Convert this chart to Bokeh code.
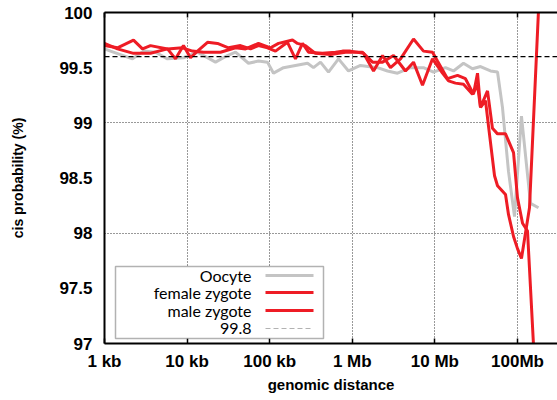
from bokeh.plotting import figure
from bokeh.models import (FixedTicker, LogAxis, Span, Label, BoxAnnotation,
                          PolyAnnotation, Range1d, Title)
from bokeh.embed import file_html
from bokeh.resources import INLINE

# genomic distance (bp) and cis-contact probability (%) per sample
oocyte_bp = [1000, 1182, 2183, 2965, 4143, 5790, 9040, 13360, 22070, 30830,
             38550, 55360, 73100, 93980, 111200, 146900, 205100, 287000, 338800, 412000,
             515000, 680800, 899500, 1094000, 1256000, 2019000, 2667000, 3524000, 5070000, 7278000,
             9616000, 13430000, 16790000, 22190000, 28510000, 35650000, 47100000, 57280000, 65770000, 77800000,
             92040000, 111700000, 143600000, 179500000]
oocyte_cis = [99.67, 99.65, 99.58, 99.65, 99.64, 99.58, 99.59, 99.64, 99.55, 99.61,
              99.64, 99.54, 99.56, 99.55, 99.45, 99.50, 99.52, 99.54, 99.50, 99.55,
              99.46, 99.58, 99.47, 99.50, 99.52, 99.50, 99.47, 99.45, 99.50, 99.50,
              99.46, 99.50, 99.47, 99.54, 99.49, 99.51, 99.47, 99.46, 99.14, 98.56,
              98.15, 99.06, 98.27, 98.23]

female_bp = [1000, 1437, 2244, 3604, 5790, 8790, 11620, 15800, 25360, 38550,
             50930, 73100, 102300, 127900, 188800, 217100, 271200, 358100, 544500, 827600,
             1328000, 1758000, 2323000, 3155000, 4406000, 5510000, 7079000, 9354000, 12360000, 14620000,
             17740000, 22190000, 28510000, 32810000, 35650000, 41020000, 44570000, 52720000, 57280000, 71610000,
             77800000, 89540000, 100000000, 111700000, 139700000, 218300000]
female_cis = [99.72, 99.67, 99.63, 99.63, 99.67, 99.68, 99.65, 99.64, 99.64, 99.68,
              99.67, 99.72, 99.68, 99.72, 99.75, 99.72, 99.70, 99.63, 99.62, 99.64,
              99.64, 99.55, 99.55, 99.61, 99.47, 99.55, 99.34, 99.58, 99.45, 99.38,
              99.36, 99.35, 99.26, 99.34, 99.14, 99.20, 98.97, 98.52, 98.43, 98.35,
              98.17, 97.97, 97.86, 97.77, 98.23, 101.41]

male_bp = [1000, 1437, 2244, 2884, 3604, 5790, 7244, 9040, 10990, 13360,
           17660, 23330, 31700, 44280, 58600, 73100, 93980, 117500, 164100, 205100,
           249500, 295100, 435500, 626300, 760600, 950600, 1368000, 1807000, 2323000, 2899000,
           3837000, 5510000, 7278000, 9354000, 10740000, 14220000, 18790000, 23440000, 29310000, 32810000,
           35650000, 43350000, 49780000, 57280000, 71610000, 89540000, 100000000, 115100000, 132200000, 174600000]
male_cis = [99.70, 99.68, 99.75, 99.67, 99.70, 99.67, 99.58, 99.70, 99.59, 99.65,
            99.73, 99.72, 99.68, 99.70, 99.67, 99.70, 99.68, 99.65, 99.73, 99.58,
            99.72, 99.64, 99.63, 99.64, 99.65, 99.65, 99.63, 99.47, 99.61, 99.50,
            99.58, 99.76, 99.65, 99.64, 99.56, 99.40, 99.43, 99.40, 99.26, 99.45,
            99.14, 99.29, 98.95, 98.90, 98.90, 98.73, 98.32, 98.09, 98.02, 96.30]

threshold = 99.6
threshold_label = "99.8"

series_names = ["Oocyte", "female zygote", "male zygote"]
series_colors = ["#c4c4c4", "#ee1c25", "#ee1c25"]

x_ticks = [1000, 10000, 100000, 1000000, 10000000, 100000000]
x_tick_labels = ["1 kb", "10 kb", "100 kb", "1 Mb", "10 Mb", "100Mb"]
y_ticks = [97, 97.5, 98, 98.5, 99, 99.5, 100]
y_tick_labels = ["97", "97.5", "98", "98.5", "99", "99.5", "100"]
y_grid = [98, 99]

TICK_FONT = "Liberation Sans"
LEGEND_FONT = "Lato"

p = figure(width=557, height=400, x_axis_type="log",
           x_range=Range1d(1000, 3.05e8), y_range=Range1d(97, 100),
           output_backend="svg", toolbar_location=None,
           min_border_left=104, min_border_right=0,
           min_border_top=12, min_border_bottom=57)
p.background_fill_color = "white"
p.border_fill_color = "white"
p.outline_line_color = None

# dotted grid at decades and whole percents
p.xgrid.ticker = FixedTicker(ticks=x_ticks)
p.ygrid.ticker = FixedTicker(ticks=y_grid)
for g in (p.xgrid, p.ygrid):
    g.grid_line_color = "#333333"
    g.grid_line_dash = "1 2"
    g.grid_line_width = 1

# axes
xa = p.xaxis[0]
xa.ticker = FixedTicker(ticks=x_ticks)
xa.major_label_overrides = dict(zip(x_ticks, x_tick_labels))
ya = p.yaxis[0]
ya.ticker = FixedTicker(ticks=y_ticks)
ya.major_label_overrides = dict(zip(y_ticks, y_tick_labels))
for ax in (xa, ya):
    ax.axis_line_width = 2
    ax.axis_line_color = "black"
    ax.major_tick_in = 5
    ax.major_tick_out = 0
    ax.major_tick_line_width = 1.5
    ax.minor_tick_line_color = None
    ax.major_label_text_font = TICK_FONT
    ax.major_label_text_font_style = "bold"
    ax.major_label_text_font_size = "17px"
    ax.major_label_text_color = "black"
    ax.axis_label_text_font = TICK_FONT
    ax.axis_label_text_font_style = "bold"
    ax.axis_label_text_color = "black"
xa.major_label_standoff = 8
ya.major_label_standoff = 12
ya.major_tick_in = 0

ya.axis_label = "cis probability (%)"
ya.axis_label_text_font_size = "14px"
ya.axis_label_standoff = 30

# x axis title, set slightly left of the frame centre
p.add_layout(Title(text="genomic distance", align="center", offset=-17,
                   text_font=TICK_FONT, text_font_style="bold",
                   text_font_size="15px", text_color="black",
                   standoff=0), "below")

top = LogAxis(ticker=FixedTicker(ticks=x_ticks),
              major_label_overrides={t: "" for t in x_ticks},
              major_tick_in=5, major_tick_out=0, major_tick_line_width=1.5,
              minor_tick_line_color=None, axis_line_width=2,
              major_label_standoff=0, major_label_text_font_size="1px")
p.add_layout(top, "above")

# curves
p.line(oocyte_bp, oocyte_cis, line_color=series_colors[0], line_width=3)
p.line(female_bp, female_cis, line_color=series_colors[1], line_width=3)
p.line(male_bp, male_cis, line_color=series_colors[2], line_width=3)

p.add_layout(Span(location=threshold, dimension="width", line_color="black",
                  line_dash="5 3", line_width=1.3))

# legend: labels right-aligned, samples on the right
p.add_layout(BoxAnnotation(left=11, right=219, bottom=5, top=77,
                           left_units="screen", right_units="screen",
                           bottom_units="screen", top_units="screen",
                           fill_color="white", fill_alpha=1,
                           line_color="black", line_width=1.5, level="annotation"))
rows_y = [68, 51, 33, 15]
entries = list(zip(series_names, series_colors)) + [(threshold_label, None)]
for (name, color), yy in zip(entries, rows_y):
    p.add_layout(Label(x=147, y=yy, x_units="screen", y_units="screen",
                       text=name, text_align="right", text_baseline="middle",
                       text_font=LEGEND_FONT, text_font_size="16px",
                       text_color="black"))
    if color is not None:
        p.add_layout(BoxAnnotation(left=161, right=209, bottom=yy - 1.5, top=yy + 1.5,
                                   left_units="screen", right_units="screen",
                                   bottom_units="screen", top_units="screen",
                                   fill_color=color, fill_alpha=1, line_color=None))
    else:
        p.add_layout(PolyAnnotation(xs=[161, 209], ys=[yy, yy],
                                    xs_units="screen", ys_units="screen",
                                    fill_alpha=0, line_color="black",
                                    line_dash="5 3", line_width=1))

open("out.html", "w").write(file_html(p, INLINE))
